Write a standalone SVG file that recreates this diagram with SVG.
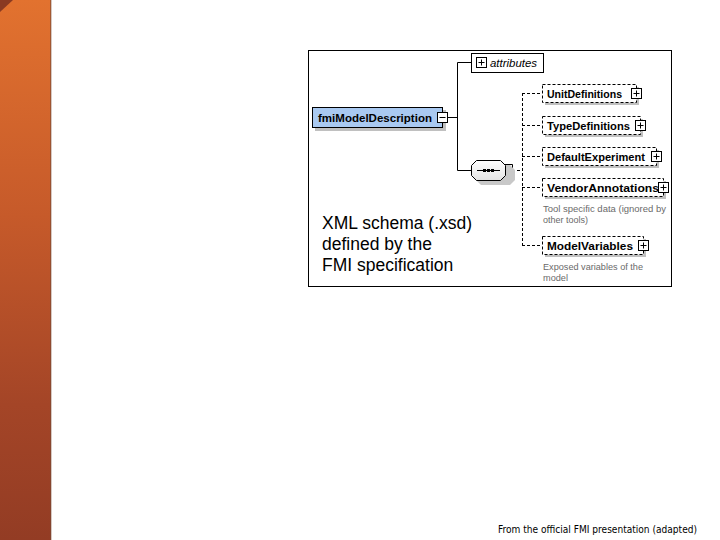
<svg xmlns="http://www.w3.org/2000/svg" width="720" height="540" viewBox="0 0 720 540">
<defs>
<linearGradient id="bar" x1="0" y1="0" x2="0" y2="1">
<stop offset="0" stop-color="#e2722f"/>
<stop offset="0.4" stop-color="#c65a2a"/>
<stop offset="0.75" stop-color="#a44527"/>
<stop offset="1" stop-color="#933c24"/>
</linearGradient>
<linearGradient id="oct" x1="0" y1="0" x2="0" y2="1">
<stop offset="0" stop-color="#ffffff"/>
<stop offset="1" stop-color="#e4e4e4"/>
</linearGradient>
<g id="plus">
<rect x="-5" y="-5" width="10" height="10" fill="#fff" stroke="#000" stroke-width="1"/>
<path d="M-3 0H3M0 -3V3" stroke="#000" stroke-width="1"/>
</g>
</defs>
<style>
.lbl{font-family:"Liberation Sans",Arial,sans-serif;font-weight:bold;font-size:11px;fill:#000}
.desc{font-family:"Liberation Sans",Arial,sans-serif;font-size:9.5px;fill:#6a6a6a}
.box{fill:#fff;stroke:#000;stroke-width:1;stroke-dasharray:3 2}
.sh{fill:#c0c0c0}
.ln{stroke:#000;stroke-width:1;fill:none}
.dl{stroke:#000;stroke-width:1;fill:none;stroke-dasharray:3 2}
.big{font-family:"Liberation Sans",Arial,sans-serif;font-size:17.5px;fill:#000}
</style>
<rect x="0" y="0" width="720" height="540" fill="#fff"/>
<rect x="0" y="0" width="51" height="540" fill="url(#bar)"/>
<rect x="50" y="0" width="1.5" height="540" fill="#7a4a35" opacity="0.6"/>
<polygon points="0,0 13,0 0,12" fill="#8a3a22"/>
<rect x="308.5" y="50.5" width="363" height="236" fill="#fff" stroke="#000" stroke-width="1"/>
<g id="connectors">
<path class="ln" d="M447 117.5H457.5M457.5 62.5V170.5M457.5 62.5H471M457.5 170.5H471"/>
<path class="ln" d="M505 164.5H512.5V175"/>
<path class="dl" d="M512 170.5H522"/>
<path class="dl" d="M522.5 93V245"/>
<path class="dl" d="M522 93.5H542M522 125.5H542M522 156.5H542M522 187.5H542M522 245.5H542"/>
</g>
<g id="fmiModelDescription">
<rect class="sh" x="315" y="110" width="131" height="21"/>
<rect x="312.5" y="107.5" width="130" height="20" fill="#a9c9f1" stroke="#000"/>
<text class="lbl" x="318" y="121.5" textLength="114" lengthAdjust="spacingAndGlyphs">fmiModelDescription</text>
<rect x="437.5" y="112.5" width="10" height="10" fill="#fff" stroke="#000"/>
<path d="M439.5 117.5H445.5" stroke="#000"/>
</g>
<g id="attributes">
<rect x="471.5" y="53.5" width="72" height="19" fill="#fff" stroke="#000"/>
<use href="#plus" x="481.5" y="62.5"/>
<text x="490" y="66.5" font-family="'Liberation Sans',Arial,sans-serif" font-size="11" font-style="italic" textLength="47" lengthAdjust="spacingAndGlyphs">attributes</text>
</g>
<g id="sequence">
<polygon points="481,165 510,165 515,170 515,180 510,185 481,185 476,180 476,170" fill="#c8c8c8"/>
<polygon points="476.5,160.5 500.5,160.5 505.5,165.5 505.5,175.5 500.5,180.5 476.5,180.5 471.5,175.5 471.5,165.5" fill="url(#oct)" stroke="#000"/>
<path d="M477 170.5H500" stroke="#000"/>
<rect x="483" y="169" width="3" height="3" fill="#000"/>
<rect x="487" y="169" width="3" height="3" fill="#000"/>
<rect x="491" y="169" width="3" height="3" fill="#000"/>
</g>
<g id="UnitDefinitions">
<rect class="sh" x="545" y="87" width="94" height="18"/>
<rect class="box" x="542.5" y="84.5" width="94" height="18"/>
<text class="lbl" x="547" y="97.5" textLength="75" lengthAdjust="spacingAndGlyphs">UnitDefinitions</text>
<use href="#plus" x="636.5" y="93.5"/>
</g>
<g id="TypeDefinitions">
<rect class="sh" x="545" y="119" width="98" height="18"/>
<rect class="box" x="542.5" y="116.5" width="98" height="18"/>
<text class="lbl" x="547" y="129.5" textLength="83" lengthAdjust="spacingAndGlyphs">TypeDefinitions</text>
<use href="#plus" x="640.5" y="125.5"/>
</g>
<g id="DefaultExperiment">
<rect class="sh" x="545" y="150" width="114" height="18"/>
<rect class="box" x="542.5" y="147.5" width="114" height="18"/>
<text class="lbl" x="547" y="160.5" textLength="98" lengthAdjust="spacingAndGlyphs">DefaultExperiment</text>
<use href="#plus" x="656.5" y="156.5"/>
</g>
<g id="VendorAnnotations">
<rect class="sh" x="545" y="181" width="121" height="18"/>
<rect class="box" x="542.5" y="178.5" width="121" height="18"/>
<text class="lbl" x="547" y="191.5" textLength="112" lengthAdjust="spacingAndGlyphs">VendorAnnotations</text>
<use href="#plus" x="663.5" y="187.5"/>
<text class="desc" x="543" y="211.5" textLength="123" lengthAdjust="spacingAndGlyphs">Tool specific data (ignored by</text>
<text class="desc" x="543" y="222.5" textLength="45" lengthAdjust="spacingAndGlyphs">other tools)</text>
</g>
<g id="ModelVariables">
<rect class="sh" x="545" y="239" width="101" height="18"/>
<rect class="box" x="542.5" y="236.5" width="101" height="18"/>
<text class="lbl" x="547" y="249.5" textLength="86" lengthAdjust="spacingAndGlyphs">ModelVariables</text>
<use href="#plus" x="643.5" y="245.5"/>
<text class="desc" x="543" y="269.5" textLength="100" lengthAdjust="spacingAndGlyphs">Exposed variables of the</text>
<text class="desc" x="543" y="280.5" textLength="25" lengthAdjust="spacingAndGlyphs">model</text>
</g>
<g id="caption">
<text class="big" x="322" y="229">XML schema (.xsd)</text>
<text class="big" x="322" y="250">defined by the</text>
<text class="big" x="322" y="271">FMI specification</text>
</g>
<text x="498" y="533" font-family="'DejaVu Sans','Liberation Sans',sans-serif" font-size="10" fill="#000" textLength="199" lengthAdjust="spacingAndGlyphs">From the official FMI presentation (adapted)</text>
</svg>
